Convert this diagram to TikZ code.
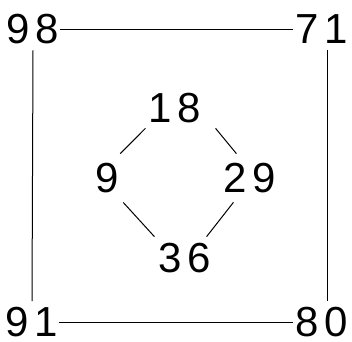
\documentclass[tikz,border=0pt]{standalone}
\usepackage{fontspec}
\usepackage{tikz}
\newfontfamily\numfont[LetterSpace=13]{Liberation Sans}
\tikzstyle{num}=[inner sep=0pt, font=\numfont\fontsize{42}{42}\selectfont]

\begin{document}
\begin{tikzpicture}[x=1pt, y=1pt, line width=1pt]
  \useasboundingbox (0, 0) rectangle (352, 341);

  % Outer Nodes
  \node (98) at (33, 312) [num]{98};
  \node (71) at (322, 312) [num]{71};
  \node (91) at (32, 18.5) [num]{91};
  \node (80) at (322, 18.5) [num]{80};

  % Inner Nodes
  \node (18) at (175, 233) [num]{18};
  \node (9) at (107, 163) [num]{9};
  \node (29) at (250, 163) [num]{29};
  \node (36) at (185, 83) [num]{36};

  % Outer Edges
  \draw ([xshift=0pt]98.east) to ([xshift=-2pt]71.west);
  \draw ([xshift=0pt]91.east) to ([xshift=-2pt]80.west);
  \draw ([yshift=-6pt]98.south) to ([yshift=6pt]91.north);
  \draw ([xshift=5pt, yshift=-6pt]71.south) to ([xshift=5pt, yshift=6pt]80.north);

  % Inner Edges
  \draw ([shift={(-3,-5)}]18.south west) to ([shift={(1,9)}]9.north east);
  \draw ([shift={(14,-5)}]18.south east) to ([shift={(13,9)}]29.north west);
  \draw ([shift={(4,-9)}]9.south east) to ([shift={(-4,6)}]36.north west);
  \draw ([shift={(10,-9)}]29.south west) to ([shift={(-5,6)}]36.north east);
\end{tikzpicture}
\end{document}
